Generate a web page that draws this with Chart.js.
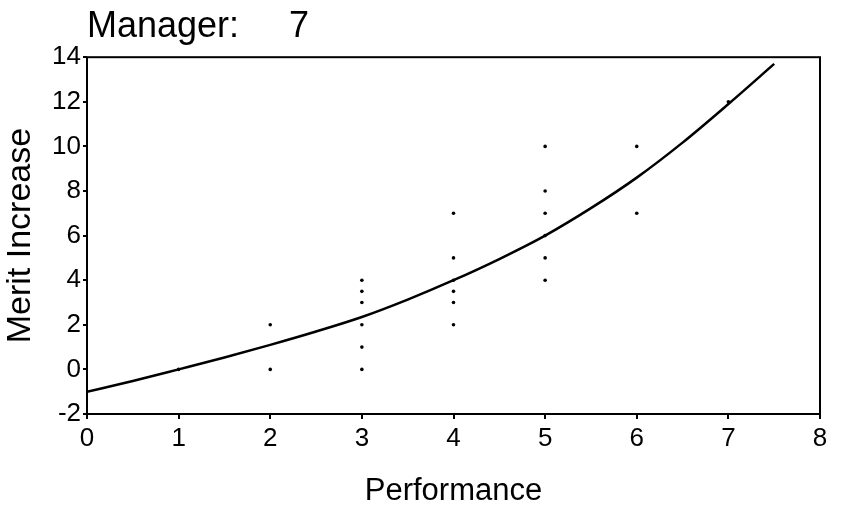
<!DOCTYPE html>
<html lang="en">
<head>
  <meta charset="UTF-8">
  <title>Manager 7 - Merit Increase vs Performance</title>
  <script src="https://cdn.jsdelivr.net/npm/chart.js"></script>
  <style>
   body { margin: 0; background: #fff; }
   #wrap { width: 866px; height: 524px; }
  </style>
</head>
<body>
  <div id="wrap"><canvas id="myChart" width="866" height="524"></canvas></div>
  <script>
    // observed points (performance rating, merit increase %)
    const perfX  = [1, 2, 2, 3, 3, 3, 3, 3, 3, 4, 4, 4, 4, 4, 4, 5, 5, 5, 5, 5, 5, 6, 6, 7];
    const meritY = [0, 2, 0, 4, 3.5, 3, 2, 1, 0, 7, 5, 4, 3.5, 3, 2, 10, 8, 7, 6, 5, 4, 10, 7, 12];

    // fitted curve
    const curveX = [0, 0.5, 1, 1.5, 2, 2.5, 3, 3.5, 4, 4.5, 5, 5.5, 6, 6.5, 7, 7.5];
    const curveY = [-1.0, -0.52, 0.0, 0.53, 1.1, 1.7, 2.35, 3.13, 4.0, 4.95, 6.0, 7.23, 8.6, 10.17, 11.9, 13.7];

    const titleText = 'Manager:     7';
    const xTitle = 'Performance';
    const yTitle = 'Merit Increase';

    const FONT = 'Arial, "Liberation Sans", sans-serif';

    // box round the plot area
    const frame = {
      id: 'frame',
      afterDraw(chart) {
        const a = chart.chartArea, c = chart.ctx;
        c.save();
        c.strokeStyle = '#000'; c.lineWidth = 2;
        c.strokeRect(a.left, a.top, a.right - a.left, a.bottom - a.top);
        c.restore();
      }
    };

    const ctx = document.getElementById('myChart').getContext('2d');
    const myChart = new Chart(ctx, {
      type: 'scatter',
      data: {
        datasets: [
          {
            label: 'observed', data: perfX.map((x, i) => ({ x: x, y: meritY[i] })),
            pointRadius: 1.8, pointBackgroundColor: '#000', pointBorderWidth: 0, showLine: false
          },
          {
            label: 'fit', data: curveX.map((x, i) => ({ x: x, y: curveY[i] })),
            showLine: true, pointRadius: 0, borderColor: '#000', borderWidth: 2.5,
            cubicInterpolationMode: 'monotone'
          }
        ]
      },
      options: {
        responsive: false, animation: false,
        layout: { padding: { left: 0, right: 46, top: 0, bottom: 0 } },
        scales: {
          x: {
            type: 'linear', min: 0, max: 8,
            ticks: { stepSize: 1, color: '#000', padding: 4, font: { family: FONT, size: 26 } },
            grid: { drawOnChartArea: false, color: '#000', tickLength: 5, lineWidth: 2 },
            border: { display: false },
            title: { display: true, text: xTitle, color: '#000', font: { family: FONT, size: 31 }, padding: { top: 0, bottom: 14 } },
            afterFit: s => { s.height = 110; }
          },
          y: {
            min: -2, max: 14,
            ticks: { stepSize: 2, color: '#000', padding: 2, font: { family: FONT, size: 26 } },
            grid: { drawOnChartArea: false, color: '#000', tickLength: 4, lineWidth: 2 },
            border: { display: false },
            title: { display: true, text: yTitle, color: '#000', font: { family: FONT, size: 34 }, padding: { top: 0, bottom: 0 } },
            afterFit: s => { s.width = 87; }
          }
        },
        plugins: {
          legend: { display: false },
          tooltip: { enabled: false },
          title: {
            display: true, text: titleText, align: 'start', fullSize: false, color: '#000',
            font: { family: FONT, size: 36, weight: 'normal' }, padding: { top: 5, bottom: 9 }
          }
        }
      },
      plugins: [frame]
    });
  </script>
</body>
</html>
